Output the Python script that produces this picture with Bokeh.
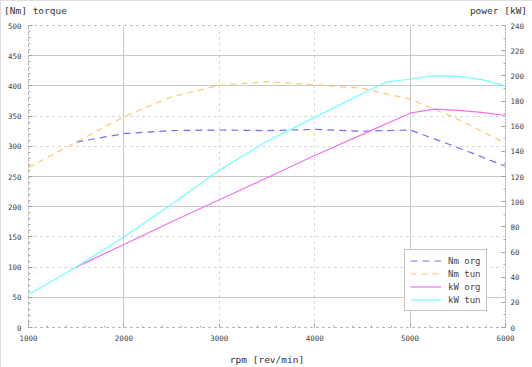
from bokeh.plotting import figure
from bokeh.models import Range1d, LinearAxis, FixedTicker, Grid
from bokeh.embed import file_html
from bokeh.resources import INLINE

# ---- data ----
rpm_nm_org = [1500, 2000, 2500, 3000, 3500, 4000, 4500, 5000, 5500, 6000]
nm_org = [307, 321, 326, 327, 326, 328, 325, 327, 298, 267]

rpm_nm_tun = [1000, 1500, 2000, 2500, 3000, 3500, 4000, 4500, 5000, 5500, 6000]
nm_tun = [265, 307, 349, 382, 401, 407, 402, 396, 378, 345, 305]

rpm_kw_org = [1500, 2000, 2500, 3000, 3500, 4000, 4500, 5000, 5250, 5500, 5750, 6000]
kw_org = [48, 66, 84, 101.5, 119, 136.7, 153.5, 170.3, 173.5, 172.6, 171, 168.5]

rpm_kw_tun = [1000, 1500, 2000, 2500, 3000, 3500, 4000, 4500, 4750, 5000, 5250, 5500, 5750, 6000]
kw_tun = [26, 48, 72, 98, 125, 148, 167, 186, 195, 197.5, 200, 199.5, 197, 192]

x_ticks = [1000, 2000, 3000, 4000, 5000, 6000]
nm_ticks = list(range(0, 501, 50))
kw_ticks = list(range(0, 241, 20))

left_title = "[Nm] torque"
right_title = "power [kW]"

FONT = "DejaVu Sans Mono"

p = figure(width=532, height=367, output_backend="svg", toolbar_location=None,
           x_range=Range1d(1000, 6000), y_range=Range1d(0, 500),
           min_border_left=28, min_border_right=27, min_border_top=25,
           min_border_bottom=40)
p.title.visible = False
p.styles = {"outline": "2px solid #d4d4d4", "outline-offset": "-2px"}
p.extra_y_ranges = {"kw": Range1d(0, 240)}
# helper pixel-like range for the top caption axis (frame spans 28..505 px)
p.extra_x_ranges = {"cap": Range1d(28, 505)}
p.background_fill_color = "white"
p.border_fill_color = "white"
p.outline_line_color = "#aaaaaa"
p.outline_line_dash = "dotted"

# grids
p.xgrid.ticker = FixedTicker(ticks=[2000, 5000])
p.ygrid.ticker = FixedTicker(ticks=[50, 200, 250, 400, 450])
for g in (p.xgrid[0], p.ygrid[0]):
    g.grid_line_color = "#c8c8c8"
    g.grid_line_width = 1
p.add_layout(Grid(dimension=0, ticker=FixedTicker(ticks=[3000, 4000]),
                  grid_line_color="#c8c8c8", grid_line_dash="dotted"))
p.add_layout(Grid(dimension=1, ticker=FixedTicker(ticks=[100, 150, 300, 350]),
                  grid_line_color="#c8c8c8", grid_line_dash="dotted"))

# axes
p.xaxis.ticker = FixedTicker(ticks=x_ticks, minor_ticks=list(range(1000, 6001, 200)))
p.yaxis.ticker = FixedTicker(ticks=nm_ticks, minor_ticks=list(range(0, 501, 10)))
right = LinearAxis(y_range_name="kw",
                   ticker=FixedTicker(ticks=kw_ticks, minor_ticks=list(range(0, 241, 10))))
p.add_layout(right, "right")

for ax in (p.xaxis[0], p.yaxis[0], right):
    ax.axis_line_color = "#aaaaaa"
    ax.axis_line_dash = "dotted"
    ax.major_tick_in = 4
    ax.major_tick_out = 0
    ax.minor_tick_in = 2
    ax.minor_tick_out = 0
    ax.major_tick_line_color = "#999999"
    ax.minor_tick_line_color = "#aaaaaa"
    ax.major_label_text_font = FONT
    ax.major_label_text_font_size = "7.5px"
    ax.major_label_text_color = "#444444"
p.yaxis[0].major_label_standoff = 7
right.major_label_standoff = 5
p.xaxis[0].major_label_standoff = 7

p.xaxis.axis_label = "rpm [rev/min]"
p.xaxis.axis_label_text_font = FONT
p.xaxis.axis_label_text_font_size = "9.5px"
p.xaxis.axis_label_text_font_style = "normal"
p.xaxis.axis_label_text_color = "#333333"
p.xaxis.axis_label_standoff = 10

# top captions as labels of an invisible axis above the plot
cap = LinearAxis(x_range_name="cap", ticker=FixedTicker(ticks=[35, 498], minor_ticks=[]),
                 major_label_overrides={35: left_title, 498: right_title})
cap.axis_line_color = None
cap.major_tick_line_color = None
cap.minor_tick_line_color = None
cap.major_tick_in = 0
cap.major_tick_out = 0
cap.major_label_standoff = 10
cap.major_label_text_font = FONT
cap.major_label_text_font_size = "9.5px"
cap.major_label_text_color = "#333333"
p.add_layout(cap, "above")

# lines
p.line(rpm_nm_org, nm_org, line_color="#7070f0", line_width=1.2, line_dash="7 5",
       legend_label="Nm org")
p.line(rpm_nm_tun, nm_tun, line_color="#ffc870", line_width=1.2, line_dash="6 5",
       legend_label="Nm tun")
p.line(rpm_kw_org, kw_org, line_color="#f070f0", line_width=1.2, y_range_name="kw",
       legend_label="kW org")
p.line(rpm_kw_tun, kw_tun, line_color="#70ffff", line_width=1.2, y_range_name="kw",
       legend_label="kW tun")

lg = p.legend[0]
lg.location = (376, 16)
lg.margin = 0
lg.padding = 5
lg.spacing = 2
lg.label_height = 11
lg.glyph_height = 11
lg.glyph_width = 31
lg.label_standoff = 7
lg.border_line_color = "#888888"
lg.border_line_width = 1
lg.background_fill_color = "white"
lg.background_fill_alpha = 1
lg.label_text_font = FONT
lg.label_text_font_size = "9px"
lg.label_text_color = "#444444"

open("out.html", "w").write(file_html(p, INLINE))
